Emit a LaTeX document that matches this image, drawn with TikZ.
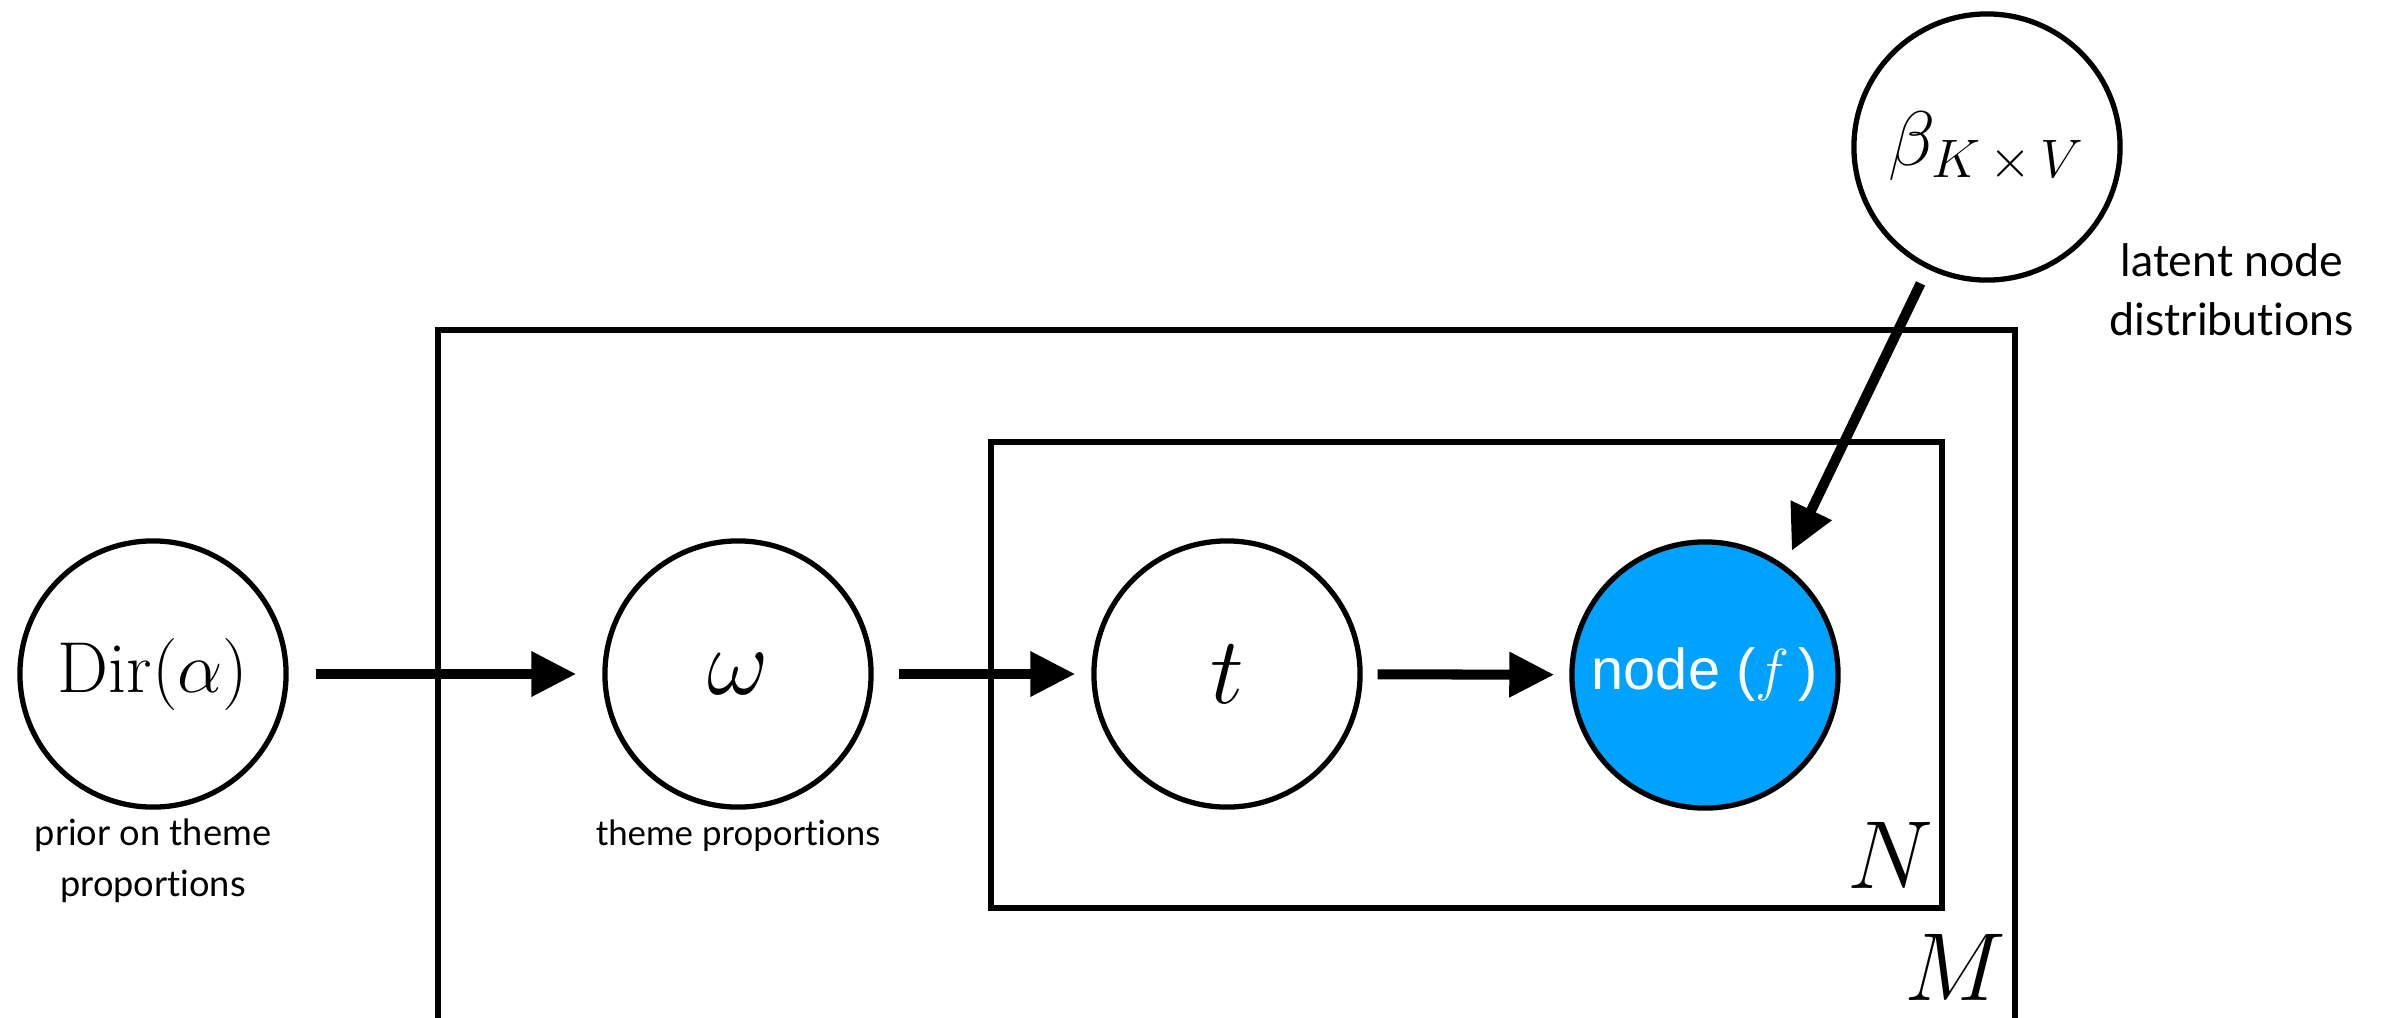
\RequirePackage{fix-cm}
\documentclass[tikz,border=0pt]{standalone}
\usepackage{fontspec}
\usetikzlibrary{arrows.meta}
\newfontfamily\notefont[Ligatures=NoCommon]{Lato}
\newfontfamily\helvfont{Liberation Sans}
\definecolor{nodeblue}{RGB}{0,162,255}

\begin{document}
\begin{tikzpicture}[x=0.01cm,y=-0.01cm]
    \tikzstyle{latent}=[circle,draw=black,line width=1.5pt,minimum size=2.66cm,inner sep=0pt]
    \tikzstyle{observed}=[latent,fill=nodeblue,text=white]
    \tikzstyle{plate}=[draw=black,line width=1.5pt]
    \tikzstyle{note}=[align=center,anchor=base]
    \tikzstyle{arr}=[line width=2.85pt,-{Triangle[length=0.45cm,width=0.43cm]}]
    \useasboundingbox (0,0) rectangle (2384,1017);
    % plates, the outer one runs off the bottom
    \draw[plate] (438,1040) -- (438,330) -- (2015,330) -- (2015,1040);
    \draw[plate] (991,442) rectangle (1942,908);
    \node[anchor=base,font=\fontsize{27.5}{33}\selectfont] (nlab) at (1890,888) {$N$};
    \node[anchor=base,font=\fontsize{27.5}{33}\selectfont] (mlab) at (1955,1000) {$M$};
    % variables
    \node[latent,font=\fontsize{20.5}{24}\selectfont] (dir) at (153,674) {$\mathrm{Dir}(\alpha)$};
    \node[latent,font=\fontsize{27}{32}\selectfont] (omega) at (738,674) {$\omega$};
    \node[latent,font=\fontsize{27}{32}\selectfont] (t) at (1227,674) {$t$};
    \node[observed,font=\helvfont\fontsize{16.4}{20}\selectfont] (f) at (1705,675) {node ($f$\,)};
    \node[latent,font=\fontsize{22}{26}\selectfont] (beta) at (1987,147) {$\beta_{K\,\times\,V}$};
    % captions (base sits on the last line)
    \node[note,font=\notefont\fontsize{10.3}{14.5}\selectfont] (dirnote) at (153,896) {prior on theme\\proportions};
    \node[note,font=\notefont\fontsize{9.9}{14}\selectfont] (omeganote) at (738,845) {theme proportions};
    \node[note,font=\notefont\fontsize{12.7}{16.5}\selectfont] (betanote) at (2232,335) {latent node\\distributions};
    % edges
    \draw[arr,shorten <=0.27cm,shorten >=0.26cm] (dir) -- (omega);
    \draw[arr,shorten <=0.25cm,shorten >=0.16cm] (omega) -- (t);
    \draw[arr,shorten <=0.15cm,shorten >=0.15cm] (t) -- (f);
    \draw[arr,shorten <=0.16cm,shorten >=0.16cm] (beta.244) -- (f.54);
\end{tikzpicture}
\end{document}
